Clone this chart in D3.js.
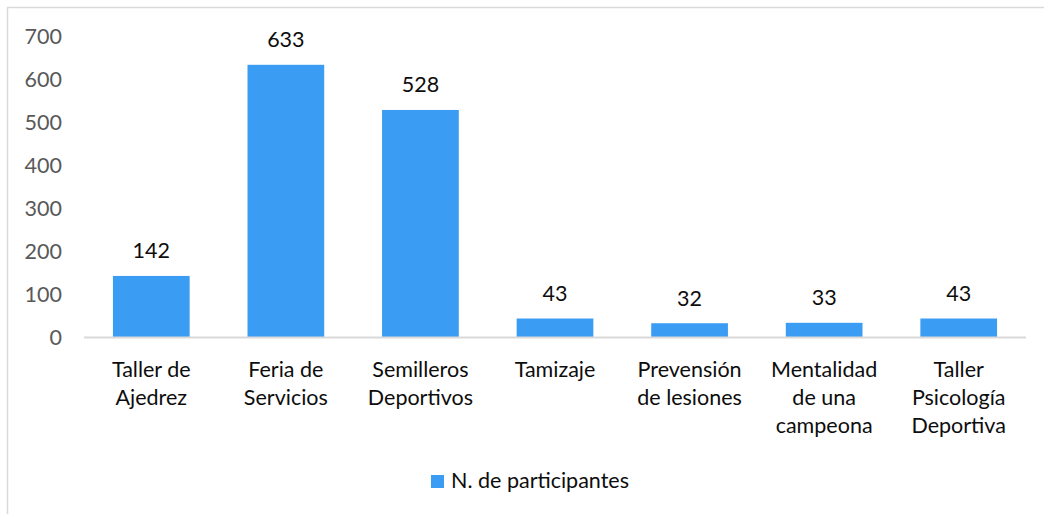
<!DOCTYPE html>
<html><head><meta charset="utf-8">
<script src="https://cdn.jsdelivr.net/npm/d3@7"></script>
<style>body{margin:0;background:#fff}svg{display:block}</style>
</head><body>
<svg id="c" width="1044" height="514"></svg>
<script>
const categories = [["Taller de","Ajedrez"],["Feria de","Servicios"],["Semilleros","Deportivos"],["Tamizaje"],["Prevensión","de lesiones"],["Mentalidad","de una","campeona"],["Taller","Psicología","Deportiva"]];
const values = [142, 633, 528, 43, 32, 33, 43];
const yTicks = [0,100,200,300,400,500,600,700];
const seriesName = "N. de participantes";

const svg = d3.select("#c");
const font = "Lato, 'Open Sans', sans-serif";
const fs = 21.5;
const color = "#3A9CF2";
svg.append("rect").attr("x",7.5).attr("y",7.5).attr("width",1100).attr("height",600)
  .attr("fill","none").attr("stroke","#D9D9D9").attr("stroke-width",1.5);

const x = d3.scaleBand().domain(d3.range(categories.length)).range([84,1026]).paddingInner(0.43).paddingOuter(0.215);
const y = d3.scaleLinear().domain([0,700]).range([337,36]);

// y axis labels
const ya = svg.append("g").attr("transform","translate(62,0)")
  .call(d3.axisLeft(y).tickValues(yTicks).tickSize(0).tickPadding(0));
ya.select(".domain").remove();
ya.selectAll("text").attr("font-family",font).attr("font-size",fs).attr("fill","#595959").attr("dy","0.35em");

// bars
svg.append("g").selectAll("rect").data(values).join("rect")
  .attr("x",(d,i)=>x(i)).attr("width",x.bandwidth())
  .attr("y",d=>y(d)).attr("height",d=>y(0)-y(d)).attr("fill",color);

// x axis line
svg.append("line").attr("x1",84).attr("x2",1026).attr("y1",337.5).attr("y2",337.5)
  .attr("stroke","#D9D9D9").attr("stroke-width",2);

// value labels
svg.append("g").selectAll("text").data(values).join("text")
  .attr("x",(d,i)=>x(i)+x.bandwidth()/2).attr("y",d=>y(d)-17.5)
  .attr("text-anchor","middle").attr("font-family",font).attr("font-size",fs).attr("fill","#0d0d0d")
  .text(d=>d);

// category labels
const cg = svg.append("g").selectAll("text").data(categories).join("text")
  .attr("x",(d,i)=>x(i)+x.bandwidth()/2).attr("y",377)
  .attr("text-anchor","middle").attr("font-family",font).attr("font-size",fs).attr("fill","#0d0d0d");
cg.each(function(d){
  const t = d3.select(this);
  d.forEach((line,j)=>{
    t.append("tspan").attr("x",t.attr("x")).attr("dy", j===0?0:28).text(line);
  });
});

// legend
svg.append("rect").attr("x",431).attr("y",475).attr("width",13).attr("height",13).attr("fill",color);
svg.append("text").attr("x",451).attr("y",488).attr("font-family",font).attr("font-size",fs).attr("fill","#0d0d0d").text(seriesName);
</script>
</body></html>
